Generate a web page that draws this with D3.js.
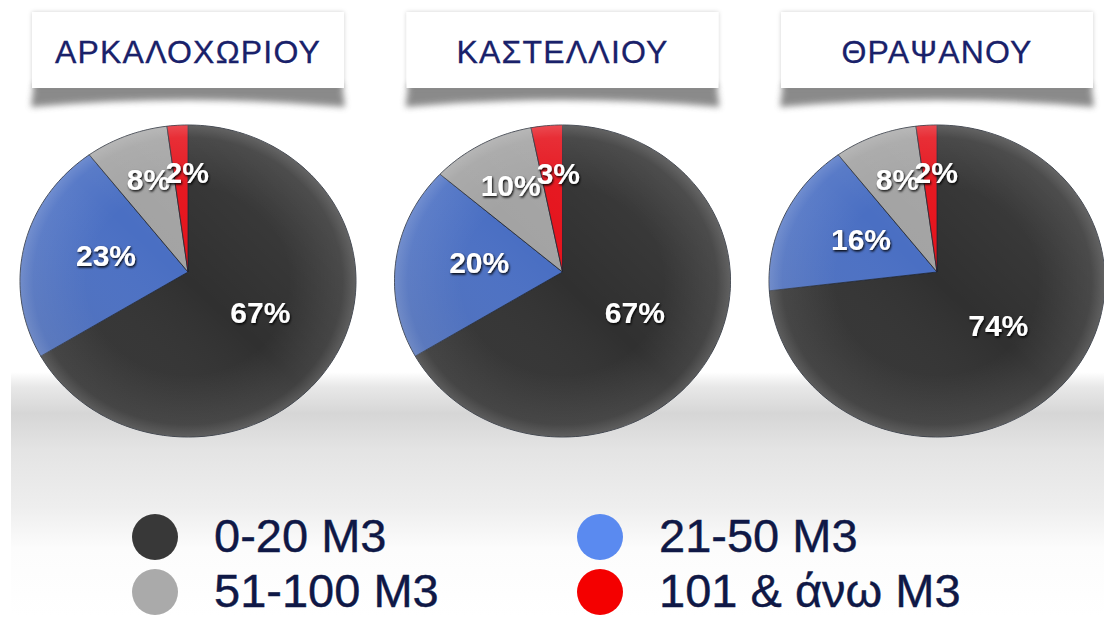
<!DOCTYPE html>
<html>
<head>
<meta charset="utf-8">
<script src="https://cdn.jsdelivr.net/npm/d3@7"></script>
<style>
  body { margin: 0; background: #fff; }
  svg { display: block; font-family: "Liberation Sans", Arial, sans-serif; }
</style>
</head>
<body>
<div id="chart"></div>
<script>
var w = 1104, h = 617;

// data
var towns = ["ΑΡΚΑΛΟΧΩΡΙΟΥ", "ΚΑΣΤΕΛΛΙΟΥ", "ΘΡΑΨΑΝΟΥ"];
var categories = ["0-20 M3", "21-50 M3", "51-100 M3", "101 & άνω M3"];
var arkalochori = [67, 23, 8, 2];
var kastelli = [67, 20, 10, 3];
var thrapsano = [74, 16, 8, 2];
var townValues = [arkalochori, kastelli, thrapsano];

var pieColors = ["#303030", "#4a6fc3", "#a3a3a3", "#e5121b"];
var legendColors = ["#383838", "#5a8af0", "#aaaaaa", "#f40000"];

var rx = 168, ry = 156;

var svg = d3.select("#chart").append("svg")
    .attr("width", w)
    .attr("height", h);

var defs = svg.append("defs");

// floor band
var band = defs.append("linearGradient").attr("id", "band")
    .attr("x1", 0).attr("y1", 0).attr("x2", 0).attr("y2", 1);
band.append("stop").attr("offset", "0").attr("stop-color", "#ffffff");
band.append("stop").attr("offset", "0.06").attr("stop-color", "#e8e8e8");
band.append("stop").attr("offset", "0.17").attr("stop-color", "#d6d6d6");
band.append("stop").attr("offset", "0.32").attr("stop-color", "#e4e4e4");
band.append("stop").attr("offset", "0.55").attr("stop-color", "#eeeeee");
band.append("stop").attr("offset", "0.72").attr("stop-color", "#fcfcfc");
band.append("stop").attr("offset", "1").attr("stop-color", "#ffffff");

svg.append("rect")
    .attr("x", 11).attr("y", 372)
    .attr("width", w - 11).attr("height", h - 372)
    .attr("fill", "url(#band)");

// pie shading
var rim = defs.append("radialGradient").attr("id", "rim")
    .attr("cx", "0.5").attr("cy", "0.5").attr("r", "0.5");
rim.append("stop").attr("offset", "0.6").attr("stop-color", "#fff").attr("stop-opacity", 0);
rim.append("stop").attr("offset", "0.92").attr("stop-color", "#fff").attr("stop-opacity", 0.08);
rim.append("stop").attr("offset", "1").attr("stop-color", "#fff").attr("stop-opacity", 0.2);

var tilt = defs.append("linearGradient").attr("id", "tilt")
    .attr("x1", 1).attr("y1", 0).attr("x2", 0).attr("y2", 1);
tilt.append("stop").attr("offset", "0").attr("stop-color", "#fff").attr("stop-opacity", 0.1);
tilt.append("stop").attr("offset", "0.5").attr("stop-color", "#fff").attr("stop-opacity", 0);
tilt.append("stop").attr("offset", "1").attr("stop-color", "#000").attr("stop-opacity", 0.18);

var blur = defs.append("filter").attr("id", "blur")
    .attr("x", "-10%").attr("y", "-50%").attr("width", "120%").attr("height", "200%");
blur.append("feGaussianBlur").attr("stdDeviation", 3);

var sideShadow = defs.append("filter").attr("id", "sideShadow")
    .attr("x", "-5%").attr("y", "-10%").attr("width", "110%").attr("height", "120%");
sideShadow.append("feDropShadow")
    .attr("dx", 0).attr("dy", 0).attr("stdDeviation", 2)
    .attr("flood-color", "#000").attr("flood-opacity", 0.18);

var txtShadow = defs.append("filter").attr("id", "txtShadow")
    .attr("x", "-20%").attr("y", "-30%").attr("width", "140%").attr("height", "160%");
txtShadow.append("feDropShadow")
    .attr("dx", 1).attr("dy", 1.5).attr("stdDeviation", 1.2)
    .attr("flood-color", "#000").attr("flood-opacity", 0.95);

var xScale = d3.scalePoint()
    .domain(towns)
    .range([188, 937]);

var pie = d3.pie().sort(null).value(function(d) { return d; });

var line = d3.line();

// title boxes
towns.forEach(function(t) {
    var cx = xScale(t), bw = 312, x0 = cx - bw / 2, x1 = cx + bw / 2;
    var g = svg.append("g");
    g.append("path")
        .attr("d", "M" + (x0 + 2) + ",84 L" + (x1 - 2) + ",84 L" + (x1 + 1) + ",107 Q" + cx + ",93 " + (x0 - 1) + ",107 Z")
        .attr("fill", "#6e6e6e")
        .attr("opacity", 0.8)
        .attr("filter", "url(#blur)");
    g.append("rect")
        .attr("x", x0).attr("y", 12)
        .attr("width", bw).attr("height", 76)
        .attr("fill", "#fff")
        .attr("filter", "url(#sideShadow)");
    g.append("text")
        .attr("x", cx).attr("y", 63)
        .attr("text-anchor", "middle")
        .attr("font-size", 32)
        .attr("letter-spacing", 1.2)
        .attr("fill", "#19216a")
        .attr("stroke", "#19216a")
        .attr("stroke-width", 0.3)
        .text(t);
});

// pies
towns.forEach(function(t, i) {
    var cx = xScale(t), ey = 281, vy = 272;
    var g = svg.append("g");
    var rimPt = function(a) { return [cx + rx * Math.sin(a), ey - ry * Math.cos(a)]; };

    var arcs = pie(townValues[i]);

    g.selectAll("path.slice")
        .data(arcs)
        .enter()
        .append("path")
        .attr("class", "slice")
        .attr("d", function(d) {
            var pts = [[cx, vy]];
            var n = Math.max(4, Math.ceil((d.endAngle - d.startAngle) * 40));
            for (var k = 0; k <= n; k++) {
                pts.push(rimPt(d.startAngle + (d.endAngle - d.startAngle) * k / n));
            }
            return line(pts) + "Z";
        })
        .attr("fill", function(d, j) { return pieColors[j]; })
        .attr("stroke", "#1e2430")
        .attr("stroke-width", 0.8)
        .attr("stroke-linejoin", "round");

    g.append("ellipse")
        .attr("cx", cx).attr("cy", ey).attr("rx", rx).attr("ry", ry)
        .attr("fill", "url(#tilt)");
    g.append("ellipse")
        .attr("cx", cx).attr("cy", ey).attr("rx", rx).attr("ry", ry)
        .attr("fill", "url(#rim)");

    g.selectAll("text")
        .data(arcs)
        .enter()
        .append("text")
        .attr("x", function(d) {
            var m = (d.startAngle + d.endAngle) / 2, k = d.data > 15 ? 0.5 : 0.64;
            return cx + k * rx * Math.sin(m) + (d.data < 5 ? 6 : 0);
        })
        .attr("y", function(d) {
            var m = (d.startAngle + d.endAngle) / 2, k = d.data > 15 ? 0.5 : 0.64;
            return vy - k * ry * Math.cos(m) + 11;
        })
        .attr("text-anchor", "middle")
        .attr("font-size", 30)
        .attr("font-weight", "bold")
        .attr("fill", "#fff")
        .attr("filter", "url(#txtShadow)")
        .text(function(d) { return d.data + "%"; });
});

// legend
var lx = d3.scalePoint().domain([0, 1]).range([155, 600]);
var ly = d3.scalePoint().domain([0, 1]).range([537, 592]);

var legend = svg.selectAll("g.legend")
    .data(categories)
    .enter()
    .append("g")
    .attr("class", "legend")
    .attr("transform", function(d, i) {
        return "translate(" + lx(i % 2) + "," + ly(Math.floor(i / 2)) + ")";
    });

legend.append("circle")
    .attr("r", 23)
    .attr("fill", function(d, i) { return legendColors[i]; });

legend.append("text")
    .attr("x", 59)
    .attr("y", 15)
    .attr("font-size", 47)
    .attr("fill", "#0f1846")
    .attr("stroke", "#0f1846")
    .attr("stroke-width", 0.4)
    .text(function(d) { return d; });
</script>
</body>
</html>
